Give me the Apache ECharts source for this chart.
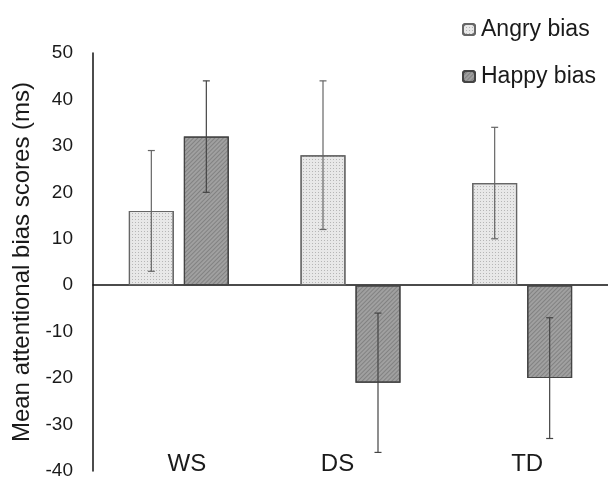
<!DOCTYPE html>
<html><head><meta charset="utf-8">
<script src="https://cdn.jsdelivr.net/npm/echarts@6/dist/echarts.min.js"></script>
<style>html,body{margin:0;padding:0;background:#fff}#c{width:608px;height:483px}</style>
</head><body><div id="c"></div>
<script>
const categories = ['WS', 'DS', 'TD'];
const angryBias = [16, 28, 22];
const happyBias = [32, -21, -20];
const angryErr = [13, 16, 12];
const happyErr = [12, 15, 13];
const yTicks = [-40, -30, -20, -10, 0, 10, 20, 30, 40, 50];

const FONT = '"Liberation Sans", Arial, sans-serif';
const BAR_W = 45, BAR_GAP = 10;

function errSeries(name, vals, errs, sign, color) {
  return {
    type: 'custom', name: name + ' err', xAxisIndex: 0, yAxisIndex: 0, z: 5,
    silent: true,
    data: vals.map((v, i) => [i, v - errs[i], v + errs[i]]),
    renderItem: function (params, api) {
      const lo = api.coord([api.value(0), api.value(1)]);
      const hi = api.coord([api.value(0), api.value(2)]);
      const dx = sign * (BAR_W + BAR_GAP) / 2;
      const x = lo[0] + dx, cap = 3.5;
      const st = { stroke: color, lineWidth: 1.2 };
      return { type: 'group', children: [
        { type: 'line', shape: { x1: x, y1: lo[1], x2: x, y2: hi[1] }, style: st },
        { type: 'line', shape: { x1: x - cap, y1: lo[1], x2: x + cap, y2: lo[1] }, style: st },
        { type: 'line', shape: { x1: x - cap, y1: hi[1], x2: x + cap, y2: hi[1] }, style: st }
      ]};
    }
  };
}

const chart = echarts.init(document.getElementById('c'));
chart.setOption({
  animation: false,
  textStyle: { fontFamily: FONT },
  legend: {
    orient: 'vertical', left: 457, top: 13, itemWidth: 12, itemHeight: 11, itemGap: 24,
    data: ['Angry bias', 'Happy bias'],
    textStyle: { fontSize: 23, color: '#1a1a1a', fontFamily: FONT, padding: [0, 0, 0, 1] }
  },
  grid: [
    { left: 93, right: 0, top: 53, bottom: 12 }
  ],
  xAxis: [
    { type: 'category', gridIndex: 0, data: categories,
      axisLine: { onZero: true, lineStyle: { color: '#111', width: 1.5 } },
      axisTick: { show: false }, axisLabel: { show: false }, splitLine: { show: false } },
    { type: 'category', gridIndex: 0, data: categories, position: 'bottom',
      axisLine: { show: false, onZero: false }, axisTick: { show: false }, splitLine: { show: false },
      axisLabel: { fontSize: 24, color: '#1a1a1a', margin: -19, fontFamily: FONT,
        formatter: function (v, i) { return '{c' + i + '|' + v + '}'; },
        rich: {
          c0: { fontSize: 24, color: '#1a1a1a', fontFamily: FONT, padding: [0, 0, 0, 16] },
          c1: { fontSize: 24, color: '#1a1a1a', fontFamily: FONT, padding: [0, 26, 0, 0] },
          c2: { fontSize: 24, color: '#1a1a1a', fontFamily: FONT, padding: [0, 0, 0, 10] }
        } } }
  ],
  yAxis: [
    { type: 'value', gridIndex: 0, min: yTicks[0], max: yTicks[yTicks.length - 1], interval: 10,
      name: 'Mean attentional bias scores (ms)', nameLocation: 'middle', nameGap: 52, nameRotate: 90,
      nameTextStyle: { fontSize: 24, color: '#1a1a1a', fontFamily: FONT },
      axisLine: { show: true, onZero: false, lineStyle: { color: '#111', width: 1.5 } },
      axisTick: { show: false }, splitLine: { show: false },
      axisLabel: { fontSize: 19, color: '#1a1a1a', margin: 20, fontFamily: FONT } }
  ],
  series: [
    { type: 'bar', name: 'Angry bias', data: angryBias, barWidth: BAR_W, barGap: (BAR_GAP / BAR_W * 100) + '%',
      itemStyle: { color: '#e8e8e8', borderColor: '#666', borderWidth: 1.2,
        decal: { symbol: 'rect', symbolSize: 1, dashArrayX: [1, 2], dashArrayY: [1, 2], color: 'rgba(90,90,90,0.35)' } } },
    { type: 'bar', name: 'Happy bias', data: happyBias, barWidth: BAR_W,
      itemStyle: { color: '#a0a0a0', borderColor: '#444', borderWidth: 1.2,
        decal: { symbol: 'rect', symbolSize: 1, dashArrayX: [[1, 0]], dashArrayY: [1, 2], rotation: -Math.PI / 4, color: 'rgba(60,60,60,0.3)' } } },
    errSeries('Angry bias', angryBias, angryErr, -1, '#666'),
    errSeries('Happy bias', happyBias, happyErr, 1, '#444')
  ]
});
</script></body></html>
